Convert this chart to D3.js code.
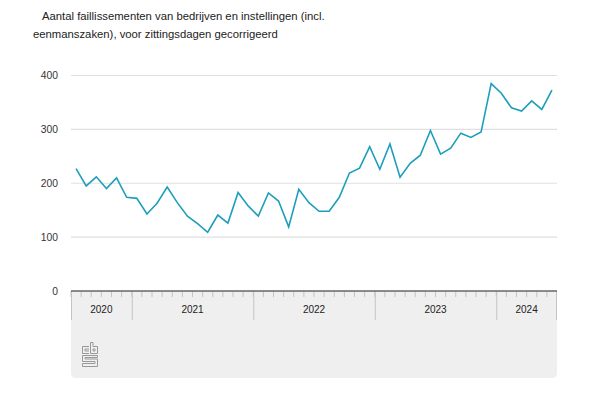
<!DOCTYPE html>
<html>
<head>
<meta charset="utf-8">
<script src="https://cdn.jsdelivr.net/npm/d3@7"></script>
<style>
  html, body { margin: 0; padding: 0; background: #fff; }
  svg { display: block; font-family: "Liberation Sans", Arial, sans-serif; }
</style>
</head>
<body>
<svg id="chart" width="600" height="400"></svg>
<script>
// ---- data ----
const titleLines = [
  "Aantal faillissementen van bedrijven en instellingen (incl.",
  "eenmanszaken), voor zittingsdagen gecorrigeerd"
];
const years = ["2020", "2021", "2022", "2023", "2024"];
const monthsPerYear = [6, 12, 12, 12, 6];   // Jul 2020 .. Jun 2024
const values2020 = [227, 195, 212, 190, 210, 174];
const values2021 = [172, 143, 163, 193, 164, 139, 125, 109, 141, 126, 183, 158];
const values2022 = [139, 182, 167, 119, 189, 164, 148, 148, 174, 219, 228, 268];
const values2023 = [226, 273, 211, 237, 252, 298, 254, 265, 293, 285, 295, 385];
const values2024 = [367, 340, 334, 353, 337, 373];
const yTicks = [0, 100, 200, 300, 400];

// ---- build monthly series ----
const yearValues = [values2020, values2021, values2022, values2023, values2024];
const series = [];
yearValues.forEach((vals, yi) => {
  vals.forEach((v, mi) => series.push({ key: years[yi] + "-" + mi, year: years[yi], value: v }));
});

const svg = d3.select("#chart");
const pLeft = 71, pRight = 557, pTop = 75.5, pBottom = 291;

const x = d3.scaleBand().domain(series.map(d => d.key)).range([pLeft, pRight]).padding(0);
const y = d3.scaleLinear().domain([0, 400]).range([pBottom, pTop]);

// title
const title = svg.append("g").attr("fill", "#222").style("font-size", "11.3px");
title.append("text").attr("x", 42).attr("y", 20).text(titleLines[0]);
title.append("text").attr("x", 33).attr("y", 38).text(titleLines[1]);

// bottom panel
const panelBottom = 378, rr = 5;
svg.append("path")
  .attr("d", `M${pLeft},${pBottom} H${pRight} V${panelBottom - rr} Q${pRight},${panelBottom} ${pRight - rr},${panelBottom} H${pLeft + rr} Q${pLeft},${panelBottom} ${pLeft},${panelBottom - rr} Z`)
  .attr("fill", "#efefef");

// gridlines
svg.append("g").selectAll("line").data(yTicks.filter(t => t > 0)).join("line")
  .attr("x1", pLeft).attr("x2", pRight)
  .attr("y1", d => y(d)).attr("y2", d => y(d))
  .attr("stroke", "#e0e0e0").attr("stroke-width", 1.2);

// y axis labels
const yAxis = d3.axisLeft(y).tickValues(yTicks).tickSize(0).tickPadding(0);
const yg = svg.append("g").attr("transform", `translate(${pLeft - 13},0)`).call(yAxis);
yg.select(".domain").remove();
yg.selectAll("text").attr("fill", "#333").style("font-size", "10.3px")
  .style("font-family", "'Liberation Sans', Arial, sans-serif");

// month ticks
svg.append("g").selectAll("line").data(series).join("line")
  .attr("x1", d => x(d.key)).attr("x2", d => x(d.key))
  .attr("y1", pBottom).attr("y2", pBottom + 6)
  .attr("stroke", "#c4c4c4").attr("stroke-width", 1);
svg.append("line").attr("x1", pRight - 0.5).attr("x2", pRight - 0.5)
  .attr("y1", pBottom).attr("y2", pBottom + 29).attr("stroke", "#c4c4c4");

// year separators and labels
let idx = 0;
const yearGroups = years.map((yr, i) => {
  const s = idx; idx += monthsPerYear[i];
  return { year: yr, start: series[s].key, end: series[idx - 1].key };
});
const yg2 = svg.append("g");
yg2.selectAll("line").data(yearGroups).join("line")
  .attr("x1", d => x(d.start) + 0.5).attr("x2", d => x(d.start) + 0.5)
  .attr("y1", pBottom).attr("y2", pBottom + 29)
  .attr("stroke", "#c4c4c4").attr("stroke-width", 1);
yg2.selectAll("text").data(yearGroups).join("text")
  .attr("x", d => (x(d.start) + x(d.end) + x.bandwidth()) / 2)
  .attr("y", pBottom + 22)
  .attr("text-anchor", "middle")
  .attr("fill", "#222").style("font-size", "10px")
  .text(d => d.year);

// axis baseline
svg.append("line").attr("x1", pLeft).attr("x2", pRight)
  .attr("y1", pBottom).attr("y2", pBottom)
  .attr("stroke", "#666").attr("stroke-width", 1.5);

// line
const line = d3.line().x(d => x(d.key) + x.bandwidth() / 2).y(d => y(d.value));
svg.append("path").datum(series)
  .attr("d", line)
  .attr("fill", "none")
  .attr("stroke", "#1d9fbc")
  .attr("stroke-width", 1.6)
  .attr("stroke-linejoin", "miter");

// cbs logo
const logo = svg.append("g").attr("transform", "translate(82,342)")
  .attr("fill", "none").attr("stroke", "#999").attr("stroke-width", 1);
logo.append("path").attr("d", "M7,4.5 H0.5 V11.5 H7 M7,7 H3 V9 H7");            // c
logo.append("path").attr("d", "M8.5,0.5 V11.5 H15.5 V4.5 H11 V0.5 Z M11,7 H13 V9 H11 Z"); // b
logo.append("path").attr("d", "M15.5,13.5 H0.5 V19.5 H13 V21.5 H0.5 V24.5 H15.5 V17 H3 V15.5 H15.5 Z"); // s
</script>
</body>
</html>
